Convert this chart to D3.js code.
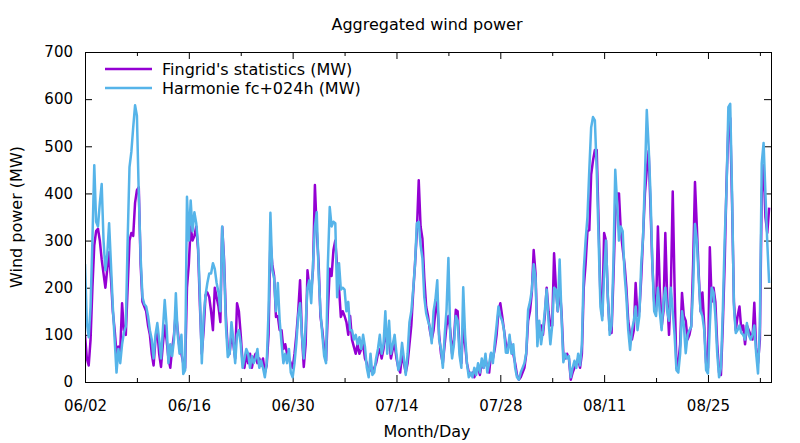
<!DOCTYPE html>
<html>
<head>
<meta charset="utf-8">
<script src="https://cdn.jsdelivr.net/npm/d3@7"></script>
<style>
  html, body { margin: 0; padding: 0; background: #fff; }
  svg { display: block; font-family: "DejaVu Sans", sans-serif; }
</style>
</head>
<body>
<svg id="chart" width="800" height="443"></svg>
<script>
// ---- data ----
const startDate = "2014-06-02T00:00:00Z";
const stepHours = 6;
const domainDays = 92.5;
const tickDays = [0, 14, 28, 42, 56, 70, 84];
const tickLabels = ["06/02", "06/16", "06/30", "07/14", "07/28", "08/11", "08/25"];
const minorTickDays = [7, 21, 35, 49, 63, 77, 91];
const yTicks = [0, 100, 200, 300, 400, 500, 600, 700];
const seriesNames = ["Fingrid's statistics (MW)", "Harmonie fc+024h (MW)"];

const fingrid = [
100,50,35,90, 200,290,320,325, 300,260,230,200, 240,275,220,150, 110,60,75,65,
167,110,100,200, 300,316,310,380, 407,413,250,170, 160,150,120,100, 60,35,90,110,
60,32,80,120, 90,50,30,70, 100,150,110,70, 60,40,30,200, 250,330,300,310,
330,280,160,60, 110,184,190,180, 150,110,200,180, 160,127,329,260, 140,70,60,100,
80,50,167,150, 100,40,30,60, 40,60,30,50, 60,40,50,35, 50,20,35,100,
300,250,225,138, 140,110,110,70, 80,60,50,40, 30,60,100,150, 216,100,32,80,
237,200,190,240, 418,320,252,139, 110,70,45,150, 240,225,280,300, 244,200,138,150,
140,127,100,140, 90,75,60,80, 60,70,80,50, 40,20,30,20, 30,40,60,70,
50,70,110,80, 90,50,70,80, 50,30,20,60, 40,20,40,80, 120,190,250,320,
428,330,304,220, 160,140,110,90, 110,150,170,100, 60,40,80,120, 140,110,60,90,
153,150,70,40, 120,80,40,20, 15,20,10,25, 30,15,40,30, 50,30,20,60,
50,70,100,150, 167,140,110,80, 70,90,70,60, 40,15,5,10, 20,30,60,130,
150,190,280,230, 100,110,120,100, 140,200,150,120, 120,273,200,150, 200,150,60,50,
60,50,5,20, 30,40,50,30, 60,200,250,320, 322,440,470,492, 492,340,180,140,
316,300,180,110, 104,220,350,400, 400,320,283,250, 200,130,100,90, 110,210,140,150,
220,308,400,450, 490,371,250,170, 150,330,200,117, 150,316,180,100, 200,404,200,30,
40,80,189,140, 130,90,100,120, 250,424,330,230, 150,190,120,40, 30,286,170,200,
170,80,20,15, 120,250,420,541, 560,380,170,110, 140,160,110,120, 80,120,110,100,
90,168,70,40, 90,400,460,350, 316,370
];

const harmonie = [
250,125,95,160, 300,460,340,330, 380,420,300,237, 270,337,250,160, 90,20,70,40,
80,105,118,300, 456,488,540,587, 565,400,265,180, 165,160,140,110, 90,50,100,125,
90,50,110,174, 120,40,80,55, 90,188,100,60, 100,17,25,393, 300,385,320,360,
337,290,180,40, 140,184,210,230, 230,252,240,210, 190,150,330,250, 120,53,60,127,
90,40,100,110, 80,30,50,70, 60,30,55,40, 50,70,30,45, 30,10,40,150,
359,237,220,150, 210,130,83,40, 60,40,70,20, 10,40,83,140, 167,100,50,120,
200,216,167,252, 330,360,230,150, 100,55,40,250, 371,330,340,337, 180,252,196,200,
196,150,170,110, 110,90,100,80, 95,70,100,75, 30,10,60,15, 20,50,70,100,
60,80,150,60, 130,60,80,100, 60,25,40,83, 50,15,60,127, 150,196,250,337,
340,290,262,180, 146,130,117,82, 150,175,216,90, 70,30,100,153, 263,100,50,80,
140,130,57,30, 201,100,40,10, 20,10,30,15, 40,20,50,30, 60,20,40,62,
40,83,120,160, 140,130,110,62, 62,100,60,80, 30,10,5,20, 30,40,62,153,
170,195,250,220, 76,130,80,110, 150,196,130,80, 120,200,196,150, 260,140,42,60,
50,55,10,30, 45,30,60,35, 80,237,300,350, 450,540,562,555, 450,304,160,131,
230,300,180,100, 120,252,450,380, 300,330,320,230, 180,110,68,110, 130,160,110,140,
250,308,435,577, 500,400,250,150, 140,200,150,110, 170,200,150,130, 200,150,100,25,
20,60,150,120, 61,100,110,117, 200,335,300,220, 150,140,110,25, 18,120,200,190,
140,60,10,30, 150,300,407,583, 590,400,160,104, 110,120,104,100, 90,125,100,90,
100,120,60,18, 120,464,507,400, 295,210
];

// ---- layout ----
const M = { l: 85, r: 771, t: 52, b: 382 };
const colors = ["#9400D3", "#56B4E9"];

const svg = d3.select("#chart");
const t0 = new Date(startDate);
const dayMs = 86400000;
const toDate = d => new Date(t0.getTime() + d * dayMs);

const x = d3.scaleUtc().domain([t0, toDate(domainDays)]).range([M.l, M.r]);
const y = d3.scaleLinear().domain([0, 700]).range([M.b, M.t]);

svg.append("defs").append("clipPath").attr("id", "clip")
  .append("rect").attr("x", M.l).attr("y", M.t)
  .attr("width", M.r - M.l).attr("height", M.b - M.t);

// axes with inward ticks
const fmt = d => tickLabels[tickDays.indexOf(Math.round((d - t0) / dayMs))];
const gx = svg.append("g").attr("transform", `translate(0,${M.b})`)
  .call(d3.axisBottom(x).tickValues(tickDays.map(toDate)).tickFormat(fmt)
    .tickSizeInner(-7).tickSizeOuter(0).tickPadding(18));
const gxTop = svg.append("g").attr("transform", `translate(0,${M.t})`)
  .call(d3.axisTop(x).tickValues(tickDays.map(toDate)).tickFormat("").tickSizeInner(-7).tickSizeOuter(0));
const gxMinB = svg.append("g").attr("transform", `translate(0,${M.b})`)
  .call(d3.axisBottom(x).tickValues(minorTickDays.map(toDate)).tickFormat("").tickSizeInner(-4).tickSizeOuter(0));
const gxMinT = svg.append("g").attr("transform", `translate(0,${M.t})`)
  .call(d3.axisTop(x).tickValues(minorTickDays.map(toDate)).tickFormat("").tickSizeInner(-4).tickSizeOuter(0));

const gy = svg.append("g").attr("transform", `translate(${M.l},0)`)
  .call(d3.axisLeft(y).tickValues(yTicks).tickSizeInner(-7).tickSizeOuter(0).tickPadding(12));
const gyR = svg.append("g").attr("transform", `translate(${M.r},0)`)
  .call(d3.axisRight(y).tickValues(yTicks).tickFormat("").tickSizeInner(-7).tickSizeOuter(0));

[gx, gxTop, gxMinB, gxMinT, gy, gyR].forEach(g => {
  g.select(".domain").remove();
  g.selectAll("line").attr("stroke", "#000").attr("stroke-width", 1);
  g.selectAll("text").attr("fill", "#000").style("font-size", "15px")
    .style("font-family", "DejaVu Sans, sans-serif");
});

// series lines
const line = d3.line()
  .x((d, i) => x(toDate(i * stepHours / 24)))
  .y(d => y(d));

const plot = svg.append("g").attr("clip-path", "url(#clip)");
[fingrid, harmonie].forEach((s, k) => {
  plot.append("path").datum(s)
    .attr("fill", "none").attr("stroke", colors[k])
    .attr("stroke-width", 2.5).attr("stroke-linejoin", "round")
    .attr("d", line);
});

// frame
svg.append("rect").attr("x", M.l + 0.5).attr("y", M.t + 0.5)
  .attr("width", M.r - M.l).attr("height", M.b - M.t)
  .attr("fill", "none").attr("stroke", "#000").attr("stroke-width", 1);

// legend
const lg = svg.append("g");
seriesNames.forEach((name, k) => {
  const yy = 69 + k * 19;
  lg.append("line").attr("x1", 105).attr("x2", 152).attr("y1", yy).attr("y2", yy)
    .attr("stroke", colors[k]).attr("stroke-width", 2.5);
  lg.append("text").attr("x", 162).attr("y", yy + 6).text(name)
    .style("font-size", "16px").attr("fill", "#000");
});

// titles
svg.append("text").attr("x", 427).attr("y", 30).attr("text-anchor", "middle")
  .style("font-size", "16px").text("Aggregated wind power");
svg.append("text").attr("x", 427).attr("y", 437).attr("text-anchor", "middle")
  .style("font-size", "16px").text("Month/Day");
svg.append("text").attr("transform", "translate(22,217) rotate(-90)")
  .attr("text-anchor", "middle").style("font-size", "16px").text("Wind power (MW)");
</script>
</body>
</html>
